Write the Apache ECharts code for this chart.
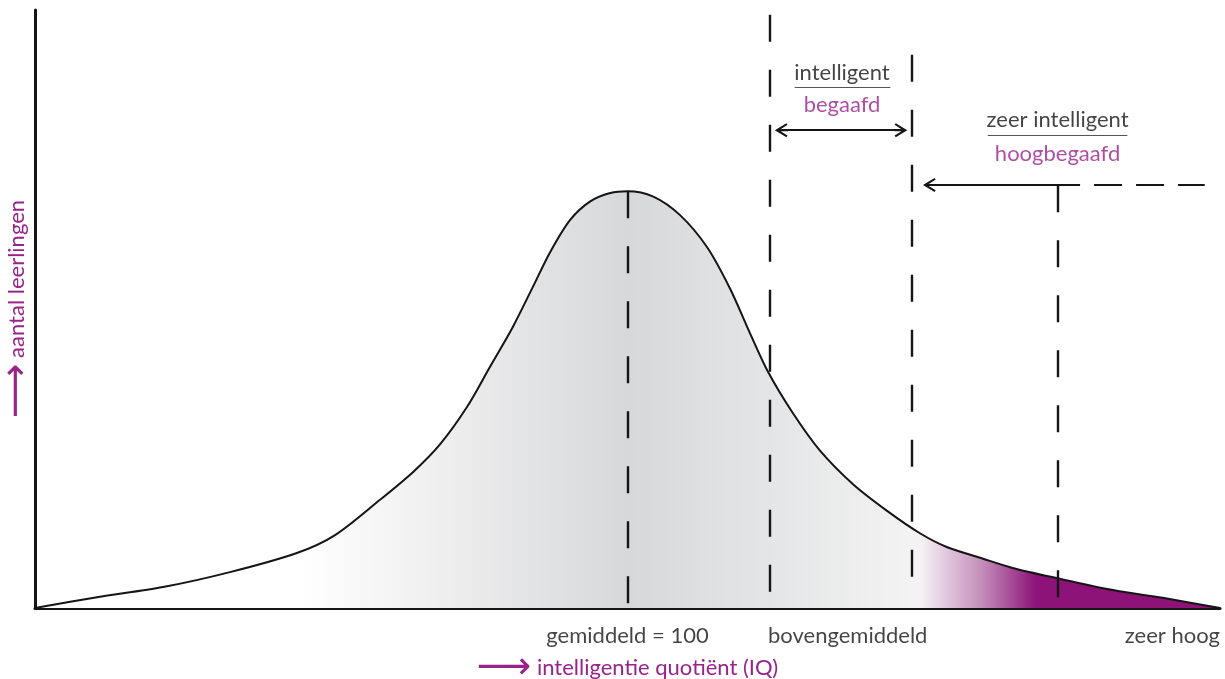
<!DOCTYPE html>
<html>
<head>
<meta charset="utf-8">
<script src="https://cdn.jsdelivr.net/npm/echarts@6/dist/echarts.min.js"></script>
<style>
html, body { margin: 0; padding: 0; background: #fff; }
#main { width: 1225px; height: 679px; }
</style>
</head>
<body>
<div id="main"></div>
<script>
// curve: IQ (x) vs aantal leerlingen (y, relatief)
var iqValues = [38, 44.5, 51.4, 58.4, 65.4, 69.4, 74.1, 77.6, 80.4,
    83.2, 85.6, 88.0, 90.1, 91.9, 94.0, 96.1, 98.2, 100, 102.7,
    105.5, 108.3, 110.7, 112.8, 114.7, 117.3, 120.1, 123.6, 127.2, 130.6,
    133.4, 136.9, 140.3, 144.9, 150.8, 156.0, 162];
var countValues = [0, 1.8, 3.5, 6.0, 9.2, 12.2, 18.1, 22.8, 27.4,
    33.6, 40.3, 47.0, 53.7, 59.5, 64.9, 68.0, 69.4, 69.7, 68.8,
    65.7, 60.4, 53.5, 46.0, 39.5, 32.6, 26.4, 20.7, 16.2, 12.5,
    10.2, 8.4, 6.7, 5.0, 3.0, 1.7, 0];

// grenzen (gestippelde lijnen) en hun boven/onderkant
var boundaries = [100, 114.9, 129.7, 145];
var boundaryTop = [69.7, 99.2, 92.5, 70.7];
var boundaryBottom = [0, 1.8, 4.2, 1.3];

var bottomLabels = ['gemiddeld = 100', 'bovengemiddeld', 'zeer hoog'];
var topLabels = ['intelligent', 'zeer intelligent'];
var purpleLabels = ['begaafd', 'hoogbegaafd'];

var BLACK = '#161415';
var PURPLE = '#9a238a';
var FONT = 'Lato';
var chevron = 'path://M7,0 L14,12 L12.4,13.2 L8,6 L8,13.5 L6,13.5 L6,6 L1.6,13.2 L0,12 Z';

var curveData = iqValues.map(function (v, i) {
    return [v, countValues[i]];
});

var dashed = { color: BLACK, width: 2.4, type: [27, 28] };
var lines = [];
boundaries.forEach(function (b, i) {
    lines.push([
        { coord: [b, boundaryTop[i]], lineStyle: dashed },
        { coord: [b, boundaryBottom[i]] }
    ]);
});
// onderstreping tussen de twee woorden
lines.push([
    { coord: [117.5, 87.1], lineStyle: { color: '#555', width: 1.2, type: 'solid' } },
    { coord: [127.5, 87.1] }
]);
lines.push([
    { coord: [137.7, 79.1], lineStyle: { color: '#555', width: 1.2, type: 'solid' } },
    { coord: [152.3, 79.1] }
]);
// dubbele pijl (intelligent / begaafd)
lines.push([
    { coord: [116.1, 79.9], symbol: chevron, symbolSize: [14, 13], lineStyle: { color: BLACK, width: 2, type: 'solid' } },
    { coord: [128.6, 79.9], symbol: chevron, symbolSize: [14, 13] }
]);
// pijl naar links (zeer intelligent)
lines.push([
    { coord: [147.36, 70.74], symbol: 'none', lineStyle: { color: BLACK, width: 2, type: 'solid' } },
    { coord: [131.6, 70.74], symbol: chevron, symbolSize: [14, 13] }
]);
lines.push([
    { coord: [148.82, 70.74], symbol: 'none', lineStyle: { color: BLACK, width: 2, type: [28, 14] } },
    { coord: [160.4, 70.74], symbol: 'none' }
]);

var labelY = -4.7;
var textData = [
    { value: [100, labelY], label: { formatter: bottomLabels[0] } },
    { value: [114.7, labelY], label: { formatter: bottomLabels[1], align: 'left' } },
    { value: [162, labelY], label: { formatter: bottomLabels[2], align: 'right' } },
    { value: [122.45, 89.5], label: { formatter: topLabels[0] } },
    { value: [122.45, 84.2], label: { formatter: purpleLabels[0], color: PURPLE } },
    { value: [145, 81.7], label: { formatter: topLabels[1] } },
    { value: [145, 75.9], label: { formatter: purpleLabels[1], color: PURPLE } }
];

var arrowRich = { a: { fontFamily: 'DejaVu Sans', fontSize: 38, lineHeight: 24, color: PURPLE } };

var myChart = echarts.init(document.getElementById('main'));
var option = {
    animation: false,
    backgroundColor: '#fff',
    grid: { left: 35, right: 5, top: 10, bottom: 71, containLabel: false, outerBoundsMode: 'none' },
    xAxis: {
        type: 'value',
        min: 38,
        max: 162,
        name: '{a|⟶} intelligentie quotiënt (IQ)',
        nameLocation: 'middle',
        nameGap: 48,
        nameTextStyle: { color: PURPLE, fontFamily: FONT, fontSize: 22, lineHeight: 24, rich: arrowRich },
        axisLine: { lineStyle: { color: BLACK, width: 3 } },
        axisTick: { show: false },
        axisLabel: { show: false },
        splitLine: { show: false }
    },
    yAxis: {
        type: 'value',
        min: 0,
        max: 100,
        name: '{a|⟶} aantal leerlingen',
        nameLocation: 'middle',
        nameRotate: 90,
        nameGap: 6,
        nameTextStyle: { color: PURPLE, fontFamily: FONT, fontSize: 22, lineHeight: 24, rich: arrowRich },
        axisLine: { show: true, lineStyle: { color: BLACK, width: 3 } },
        axisTick: { show: false },
        axisLabel: { show: false },
        splitLine: { show: false }
    },
    series: [{
        name: 'IQ',
        type: 'line',
        data: curveData,
        symbol: 'none',
        smooth: 0.3,
        lineStyle: { color: BLACK, width: 2 },
        areaStyle: {
            opacity: 1,
            color: new echarts.graphic.LinearGradient(0, 0, 1, 0, [
                { offset: 0, color: '#ffffff' },
                { offset: 0.225, color: '#ffffff' },
                { offset: 0.36, color: '#ececed' },
                { offset: 0.5, color: '#d7d8da' },
                { offset: 0.62, color: '#e4e5e6' },
                { offset: 0.74, color: '#f3f3f3' },
                { offset: 0.748, color: '#f6f1f5' },
                { offset: 0.8, color: '#c28bb9' },
                { offset: 0.845, color: '#8d1379' },
                { offset: 1, color: '#8d1379' }
            ])
        },
        markLine: {
            silent: true,
            animation: false,
            symbol: ['none', 'none'],
            label: { show: false },
            emphasis: { disabled: true },
            data: lines
        }
    }, {
        name: 'tekst',
        type: 'scatter',
        symbolSize: 0,
        clip: false,
        silent: true,
        label: {
            show: true,
            position: 'inside',
            color: BLACK,
            fontFamily: FONT,
            fontSize: 22
        },
        data: textData
    }]
};
myChart.setOption(option);
window.addEventListener('resize', function () {
    myChart.resize();
});
</script>
</body>
</html>
